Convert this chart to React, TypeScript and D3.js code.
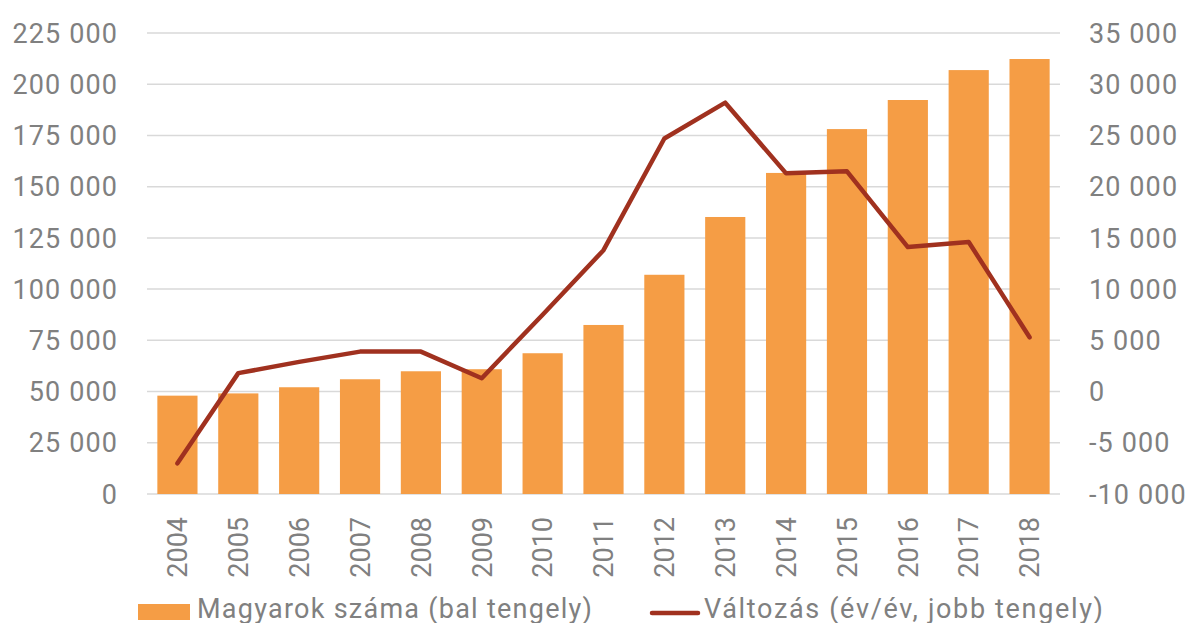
import React from "react";
import * as d3 from "d3";

const years = ["2004","2005","2006","2007","2008","2009","2010","2011","2012","2013","2014","2015","2016","2017","2018"];
const hungarians = [48000, 49100, 52100, 56000, 59900, 60900, 68700, 82500, 107000, 135200, 156700, 178100, 192300, 206900, 212300];
const change = [-7000, 1800, 2900, 3900, 3900, 1300, 7500, 13800, 24700, 28200, 21300, 21500, 14100, 14600, 5300];
const leftTicks = [0, 25000, 50000, 75000, 100000, 125000, 150000, 175000, 200000, 225000];
const rightTicks = [-10000, -5000, 0, 5000, 10000, 15000, 20000, 25000, 30000, 35000];
const barLabel = "Magyarok száma (bal tengely)";
const lineLabel = "Változás (év/év, jobb tengely)";

const W = 1189, H = 623;
const X0 = 147, X1 = 1060, Y0 = 494, Y1 = 33;
const BAR = "#F59D45";
const LINE = "#A0311F";
const GRID = "#D9D9D9";
const TXT = "#808080";
const FONT = "Roboto, 'Noto Sans', sans-serif";

const fmt = (v: number) => {
  const s = Math.abs(v).toString().replace(/\B(?=(\d{3})+(?!\d))/g, " ");
  return (v < 0 ? "-" : "") + s;
};

export default function App() {
  const x = d3.scaleBand<string>().domain(years).range([X0, X1]).paddingInner(0.34).paddingOuter(0.17);
  const yL = d3.scaleLinear().domain([0, 225000]).range([Y0, Y1]);
  const yR = d3.scaleLinear().domain([-10000, 35000]).range([Y0, Y1]);
  const line = d3.line<number>()
    .x((_, i) => (x(years[i]) as number) + x.bandwidth() / 2)
    .y((d) => yR(d));

  return (
    <svg width={W} height={H} style={{ position: "absolute", left: 0, top: 0, background: "#fff" }} fontFamily={FONT}>
      {leftTicks.map((t) => (
        <line key={"g" + t} x1={X0} x2={X1} y1={yL(t)} y2={yL(t)} stroke={GRID} strokeWidth={1.5} />
      ))}
      {leftTicks.map((t) => (
        <text key={"l" + t} x={118} y={yL(t)} dy="0.36em" textAnchor="end" fill={TXT} fontSize={27} letterSpacing={1.1}>{fmt(t)}</text>
      ))}
      {rightTicks.map((t) => (
        <text key={"r" + t} x={1089} y={yR(t)} dy="0.36em" textAnchor="start" fill={TXT} fontSize={27} letterSpacing={1.1}>{fmt(t)}</text>
      ))}
      {hungarians.map((v, i) => (
        <rect key={"b" + i} x={x(years[i])} y={yL(v)} width={x.bandwidth()} height={Y0 - yL(v)} fill={BAR} />
      ))}
      <path d={line(change) || ""} fill="none" stroke={LINE} strokeWidth={4.5} strokeLinejoin="round" strokeLinecap="round" />
      {years.map((yv) => {
        const cx = (x(yv) as number) + x.bandwidth() / 2;
        return (
          <text key={"y" + yv} transform={`translate(${cx},517) rotate(-90)`} dy="0.36em" textAnchor="end" fill={TXT} fontSize={27}>{yv}</text>
        );
      })}
      <rect x={138} y={604} width={52} height={16} fill={BAR} />
      <text x={197} y={618} fill={TXT} fontSize={27} textLength={395} lengthAdjust="spacing">{barLabel}</text>
      <line x1={652} x2={698} y1={613} y2={613} stroke={LINE} strokeWidth={4.5} strokeLinecap="round" />
      <text x={704} y={618} fill={TXT} fontSize={27} textLength={399} lengthAdjust="spacing">{lineLabel}</text>
    </svg>
  );
}
